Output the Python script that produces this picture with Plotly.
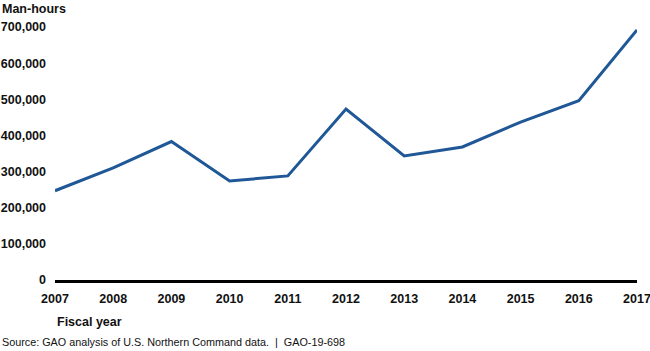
import plotly.graph_objects as go

years = ["2007", "2008", "2009", "2010", "2011", "2012", "2013", "2014", "2015", "2016", "2017"]
man_hours = [247000, 310000, 383000, 274000, 288000, 473000, 343000, 368000, 437000, 496000, 692000]
y_ticks = [0, 100000, 200000, 300000, 400000, 500000, 600000, 700000]
y_tick_labels = ["0", "100,000", "200,000", "300,000", "400,000", "500,000", "600,000", "700,000"]

W, H = 650, 351
L, R, T, B = 55, 13, 27, 71

fig = go.Figure()
fig.add_trace(go.Scatter(
    x=list(range(len(years))), y=man_hours, mode="lines",
    line=dict(color="#1f5797", width=3), hoverinfo="skip", showlegend=False,
))

font_family = "Liberation Sans, Arial, sans-serif"
FS = 12.5
fig.update_layout(
    width=W, height=H,
    margin=dict(l=L, r=R, t=T, b=B, autoexpand=False),
    paper_bgcolor="white", plot_bgcolor="white",
    font=dict(family=font_family, color="#111111"),
    xaxis=dict(
        range=[0, len(years) - 1],
        tickmode="array", tickvals=list(range(len(years))), ticktext=years,
        tickfont=dict(size=FS, weight="bold", family=font_family, color="#111111"),
        showgrid=False, zeroline=False,
        showline=True, linecolor="black", linewidth=3,
        ticks="", ticklabelstandoff=5, automargin=False,
        ticklabeloverflow="allow",
        fixedrange=True,
    ),
    yaxis=dict(
        range=[0, 700000],
        tickmode="array", tickvals=y_ticks, ticktext=y_tick_labels,
        tickfont=dict(size=FS, weight="bold", family=font_family, color="#111111"),
        showgrid=False, zeroline=False, showline=False,
        ticks="", ticklabelstandoff=8, automargin=False,
        ticklabeloverflow="allow",
        fixedrange=True,
    ),
    annotations=[
        dict(text="<b>Man-hours</b>", xref="paper", yref="paper", x=0, y=1,
             xshift=-L, yshift=T - 9, xanchor="left", yanchor="middle",
             showarrow=False, font=dict(size=FS, family=font_family, color="#111111")),
        dict(text="<b>Fiscal year</b>", xref="paper", yref="paper", x=0, y=0,
             xshift=0, yshift=-42, xanchor="left", yanchor="middle",
             showarrow=False, font=dict(size=FS, family=font_family, color="#111111")),
        dict(text="Source: GAO analysis of U.S. Northern Command data.&nbsp;&nbsp;|&nbsp;&nbsp;GAO-19-698",
             xref="paper", yref="paper", x=0, y=0,
             xshift=-L, yshift=-62, xanchor="left", yanchor="middle",
             showarrow=False, font=dict(size=10.8, family=font_family, color="#111111")),
    ],
)

fig.write_html("out.html")
